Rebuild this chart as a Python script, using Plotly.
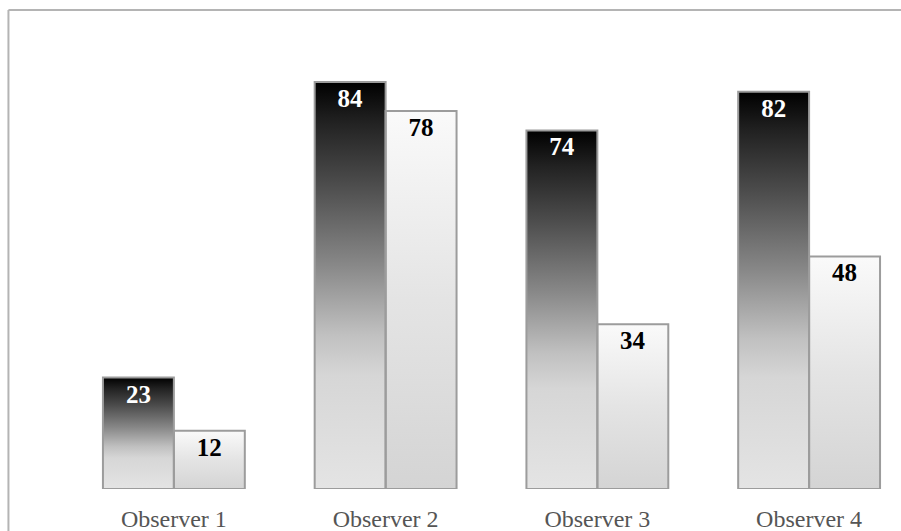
import plotly.graph_objects as go

categories = ["Observer 1", "Observer 2", "Observer 3", "Observer 4"]
series_a = [23, 84, 74, 82]
series_b = [12, 78, 34, 48]

BAR_W = 0.335
dark_scale = [[0, "#e4e4e4"], [0.28, "#d6d6d6"], [0.38, "#c0c0c0"], [0.55, "#888888"],
              [0.75, "#4c4c4c"], [0.9, "#222222"], [1, "#000000"]]
light_scale = [[0, "#d4d4d4"], [0.5, "#e4e4e4"], [1, "#fafafa"]]

fig = go.Figure()
pos = list(range(len(categories)))

for vals, off, scale in ((series_a, -BAR_W, dark_scale), (series_b, 0.0, light_scale)):
    for i, v in zip(pos, vals):
        x0, x1 = i + off, i + off + BAR_W
        fig.add_trace(go.Scatter(
            x=[x0, x1, x1, x0, x0], y=[0, 0, v, v, 0],
            mode="lines", line=dict(width=0), fill="toself",
            fillgradient=dict(type="vertical", colorscale=scale),
            hoverinfo="skip", showlegend=False))

for vals, off, tcolor in ((series_a, -BAR_W, "white"), (series_b, 0.0, "black")):
    fig.add_trace(go.Bar(
        x=pos, y=vals, width=BAR_W, offset=off, xaxis="x2", yaxis="y2",
        marker=dict(color="rgba(0,0,0,0)", line=dict(color="#9c9c9c", width=2)),
        text=[str(v) for v in vals], textposition="inside", insidetextanchor="end",
        textangle=0, constraintext="none",
        textfont=dict(family="Liberation Serif", size=25, color=tcolor, weight="bold"),
        showlegend=False))

fig.update_layout(
    width=901, height=531,
    margin=dict(l=68, r=0, t=0, b=42),
    paper_bgcolor="white", plot_bgcolor="white",
    barmode="overlay",
    xaxis=dict(range=[-0.5, 3.434], tickvals=pos, ticktext=categories,
               showgrid=False, zeroline=False, showline=False, ticks="",
               ticklabelstandoff=13,
               tickfont=dict(family="Liberation Serif", size=24, color="#555555")),
    yaxis=dict(range=[0, 100.93], visible=False, showgrid=False, zeroline=False),
    xaxis2=dict(range=[-0.5, 3.434], overlaying="x", visible=False),
    yaxis2=dict(range=[0, 100.93], overlaying="y", visible=False),
    shapes=[
        dict(type="line", xref="paper", yref="paper", x0=-0.0715, x1=1.2, y0=0.9796, y1=0.9796,
             line=dict(color="#b4b4b4", width=2)),
        dict(type="line", xref="paper", yref="paper", x0=-0.0715, x1=-0.0715, y0=-0.2, y1=0.9796,
             line=dict(color="#b4b4b4", width=2)),
    ],
)

fig.write_html("out.html")
